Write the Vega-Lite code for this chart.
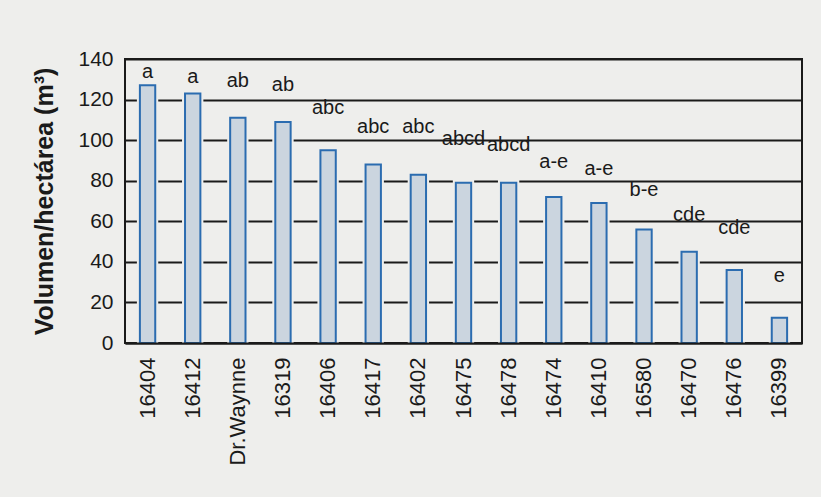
{
  "$schema": "https://vega.github.io/schema/vega-lite/v6.json",
  "autosize": {"type": "none"},
  "width": 677,
  "height": 284,
  "padding": {"left": 125, "top": 59, "right": 19, "bottom": 154},
  "background": "#eeeeec",
  "config": {
    "font": "Liberation Sans",
    "view": {"stroke": "#1a1a1a", "strokeWidth": 2, "fill": "#eeeeec"}
  },
  "data": {
    "values": [
      {"clon": "16404", "volumen": 127, "letra": "a", "altura_letra": 133.4},
      {"clon": "16412", "volumen": 123, "letra": "a", "altura_letra": 131},
      {"clon": "Dr.Waynne", "volumen": 111, "letra": "ab", "altura_letra": 129.3},
      {"clon": "16319", "volumen": 109, "letra": "ab", "altura_letra": 127.4},
      {"clon": "16406", "volumen": 95, "letra": "abc", "altura_letra": 116},
      {"clon": "16417", "volumen": 88, "letra": "abc", "altura_letra": 106.7},
      {"clon": "16402", "volumen": 83, "letra": "abc", "altura_letra": 106.7},
      {"clon": "16475", "volumen": 79, "letra": "abcd", "altura_letra": 100.7},
      {"clon": "16478", "volumen": 79, "letra": "abcd", "altura_letra": 97.4},
      {"clon": "16474", "volumen": 72, "letra": "a-e", "altura_letra": 89.2},
      {"clon": "16410", "volumen": 69, "letra": "a-e", "altura_letra": 86},
      {"clon": "16580", "volumen": 56, "letra": "b-e", "altura_letra": 75.3},
      {"clon": "16470", "volumen": 45, "letra": "cde", "altura_letra": 63},
      {"clon": "16476", "volumen": 36, "letra": "cde", "altura_letra": 56.5},
      {"clon": "16399", "volumen": 12.5, "letra": "e", "altura_letra": 33.2}
    ]
  },
  "encoding": {
    "x": {
      "field": "clon",
      "type": "nominal",
      "sort": null,
      "scale": {"paddingInner": 0.66, "paddingOuter": 0.33},
      "axis": {
        "title": null,
        "labelAngle": 270,
        "labelFontSize": 22,
        "labelColor": "#1a1a1a",
        "labelPadding": 14,
        "ticks": false,
        "domain": true,
        "domainColor": "#1a1a1a",
        "domainWidth": 2,
        "zindex": 1
      }
    }
  },
  "layer": [
    {
      "mark": {"type": "bar", "fill": "#eeeeec", "stroke": "#eeeeec", "strokeWidth": 6, "clip": true},
      "encoding": {
        "y": {
          "field": "volumen",
          "type": "quantitative",
          "scale": {"domain": [0, 140], "nice": false},
          "axis": {
            "title": "Volumen/hectárea (m³)",
            "titleFontSize": 25,
            "titleFontWeight": "bold",
            "titleColor": "#1a1a1a",
            "titlePadding": 20,
            "values": [0, 20, 40, 60, 80, 100, 120, 140],
            "labelFontSize": 21,
            "labelColor": "#1a1a1a",
            "labelPadding": 12,
            "ticks": false,
            "domain": false,
            "grid": true,
            "gridColor": "#1a1a1a",
            "gridWidth": 2
          }
        }
      }
    },
    {
      "mark": {"type": "bar", "fill": "#cbd5df", "stroke": "#2b6cb0", "strokeWidth": 2},
      "encoding": {
        "y": {"field": "volumen", "type": "quantitative"}
      }
    },
    {
      "mark": {"type": "text", "fontSize": 20, "color": "#1a1a1a", "baseline": "middle"},
      "encoding": {
        "y": {"field": "altura_letra", "type": "quantitative"},
        "text": {"field": "letra"}
      }
    }
  ]
}
